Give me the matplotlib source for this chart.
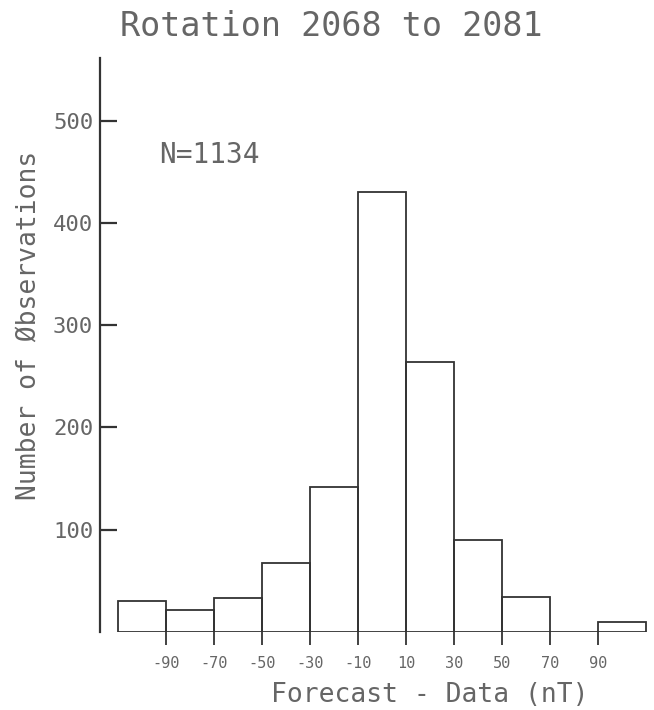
import matplotlib
matplotlib.use("Agg")
from matplotlib import pyplot as plt

# histogram of forecast minus data, 20 nT bins
bin_edges = [-110, -90, -70, -50, -30, -10, 10, 30, 50, 70, 90, 110]
counts = [30, 21, 33, 67, 142, 430, 264, 90, 34, 0, 10]
x_ticks = [-90, -70, -50, -30, -10, 10, 30, 50, 70, 90]
y_ticks = [100, 200, 300, 400, 500]
n_obs = 1134

line_color = "#333333"
text_color = "#666666"

plt.rcParams["font.family"] = ["DejaVu Sans Mono"]

fig = plt.figure(figsize=(6.54, 7.10), dpi=100)
ax = fig.add_axes([0.153, 0.110, 0.838, 0.808])

lefts = bin_edges[:-1]
widths = [b - a for a, b in zip(bin_edges[:-1], bin_edges[1:])]
ax.bar(lefts, counts, width=widths, align="edge", fill=False,
       edgecolor=line_color, linewidth=1.3)

ax.set_xlim(-117.5, 111)
ax.set_ylim(0, 561)

for side in ["top", "right", "bottom"]:
    ax.spines[side].set_visible(False)
ax.spines["left"].set_color(line_color)
ax.spines["left"].set_linewidth(1.6)

ax.set_xticks(x_ticks)
ax.set_xticklabels([str(v) for v in x_ticks])
ax.set_yticks(y_ticks)
ax.set_yticklabels([str(v) for v in y_ticks])

ax.tick_params(axis="x", direction="out", length=9.5, width=1.3,
               color=line_color, labelcolor=text_color, labelsize=11, pad=8)
ax.tick_params(axis="y", direction="in", length=12, width=1.6,
               color=line_color, labelcolor=text_color, labelsize=16, pad=5)

ax.text(-93, 466, f"N={n_obs}", fontsize=20, color=text_color,
        ha="left", va="center")

fig.text(0.506, 0.963, "Rotation 2068 to 2081", fontsize=24,
         color=text_color, ha="center", va="center")
fig.text(0.657, 0.021, "Forecast - Data (nT)", fontsize=19,
         color=text_color, ha="center", va="center")
fig.text(0.045, 0.542, "Number of Øbservations", fontsize=19,
         color=text_color, ha="center", va="center", rotation=90)

fig.savefig("out.png", dpi=100)
